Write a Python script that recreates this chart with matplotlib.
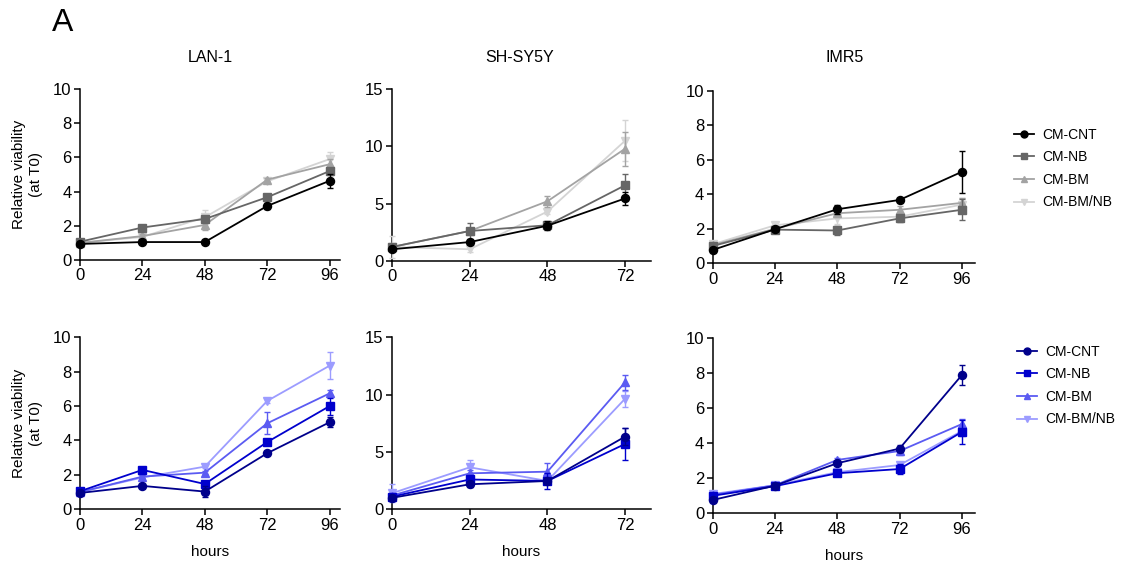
import matplotlib

matplotlib.use("Agg")
import matplotlib.pyplot as plt
from matplotlib.lines import Line2D

plt.rcParams["font.family"] = ["Liberation Sans", "DejaVu Sans"]

series = ["CM-CNT", "CM-NB", "CM-BM", "CM-BM/NB"]
markers = ["o", "s", "^", "v"]
gray_colors = ["#000000", "#666666", "#a3a3a3", "#d4d4d4"]
blue_colors = ["#00008b", "#0000cd", "#5b5bf2", "#9c9cff"]

cell_lines = ["LAN-1", "SH-SY5Y", "IMR5"]
hours_96 = [0, 24, 48, 72, 96]
hours_72 = [0, 24, 48, 72]

# top row (grey) means and sd
lan_gray = [[0.94, 1.05, 1.05, 3.16, 4.63],
            [1.07, 1.9, 2.4, 3.67, 5.2],
            [1.0, 1.4, 2.05, 4.7, 5.6],
            [1.0, 1.35, 2.5, 4.6, 5.9]]
lan_gray_err = [[0.05, 0.05, 0.05, 0.2, 0.4],
                [0.1, 0.1, 0.2, 0.2, 0.2],
                [0.1, 0.1, 0.3, 0.1, 0.3],
                [0.1, 0.1, 0.4, 0.1, 0.4]]
sh_gray = [[1.0, 1.63, 3.06, 5.45],
           [1.2, 2.6, 3.1, 6.6],
           [1.2, 2.6, 5.2, 9.8],
           [1.2, 1.0, 4.3, 10.5]]
sh_gray_err = [[0.1, 0.2, 0.4, 0.6],
               [0.2, 0.7, 0.3, 1.0],
               [0.2, 0.3, 0.5, 1.5],
               [1.0, 0.2, 0.2, 1.8]]
imr_gray = [[0.77, 1.97, 3.13, 3.67, 5.3],
            [1.0, 1.95, 1.9, 2.6, 3.1],
            [1.05, 2.0, 2.9, 3.1, 3.5],
            [1.1, 2.2, 2.6, 2.7, 3.4]]
imr_gray_err = [[0.1, 0.1, 0.25, 0.1, 1.2],
                [0.1, 0.1, 0.25, 0.2, 0.6],
                [0.1, 0.1, 0.2, 0.2, 0.3],
                [0.1, 0.2, 0.3, 0.2, 0.4]]

# bottom row (blue) means and sd
lan_blue = [[0.95, 1.36, 1.03, 3.26, 5.06],
            [1.05, 2.29, 1.47, 3.91, 6.0],
            [1.0, 1.9, 2.13, 5.0, 6.74],
            [1.0, 1.85, 2.48, 6.3, 8.35]]
lan_blue_err = [[0.05, 0.1, 0.3, 0.1, 0.3],
                [0.1, 0.1, 0.15, 0.1, 0.5],
                [0.1, 0.1, 0.1, 0.65, 0.2],
                [0.1, 0.1, 0.1, 0.1, 0.8]]
sh_blue = [[1.0, 2.18, 2.47, 6.34],
           [1.1, 2.6, 2.47, 5.7],
           [1.2, 3.14, 3.28, 11.08],
           [1.4, 3.66, 2.47, 9.65]]
sh_blue_err = [[0.1, 0.2, 0.3, 0.75],
               [0.2, 0.3, 0.7, 1.4],
               [0.2, 0.3, 0.8, 0.65],
               [0.8, 0.6, 0.3, 0.7]]
imr_blue = [[0.76, 1.58, 2.86, 3.7, 7.9],
            [1.0, 1.55, 2.29, 2.53, 4.65],
            [1.05, 1.6, 3.05, 3.56, 5.1],
            [1.1, 1.6, 2.35, 2.76, 4.7]]
imr_blue_err = [[0.1, 0.05, 0.1, 0.2, 0.55],
                [0.1, 0.05, 0.1, 0.3, 0.7],
                [0.1, 0.05, 0.1, 0.2, 0.3],
                [0.1, 0.05, 0.1, 0.2, 0.3]]

# axes rectangles [left, bottom, width, height] in figure fraction
top_pos = [[0.0712, 0.5398, 0.2313, 0.3027],
           [0.3488, 0.5386, 0.2304, 0.3034],
           [0.6340, 0.5340, 0.2333, 0.3055]]
bot_pos = [[0.0712, 0.0986, 0.2313, 0.3044],
           [0.3488, 0.0986, 0.2304, 0.3044],
           [0.6340, 0.0915, 0.2333, 0.3097]]


def panel(fig, pos, x, means, errs, colors, ymax, xmax,
          ylabel=False, xlabel=False):
    ax = fig.add_axes(pos)
    # reverse so CM-CNT ends up on top, as in prism
    for i in reversed(range(len(means))):
        ax.errorbar(x, means[i], yerr=errs[i], color=colors[i],
                    marker=markers[i], markersize=5.8, lw=1.3,
                    elinewidth=1.0, capsize=2.5, capthick=1.0,
                    clip_on=False, zorder=3 + (len(means) - i))
    ax.set_xlim(0, xmax)
    ax.set_ylim(0, ymax)
    ax.set_xticks(x)
    ax.set_yticks(range(0, ymax + 1, 2 if ymax == 10 else 5))
    for s in ("top", "right"):
        ax.spines[s].set_visible(False)
    for s in ("left", "bottom"):
        ax.spines[s].set_linewidth(1.1)
    ax.tick_params(labelsize=12, length=4, width=1.1, pad=2)
    if ylabel:
        ax.set_ylabel("Relative viability\n(at T0)", fontsize=11,
                      labelpad=7, linespacing=1.35)
    if xlabel:
        ax.set_xlabel("hours", fontsize=11, labelpad=9)
    return ax


fig = plt.figure(figsize=(11.24, 5.65), dpi=100)

top_data = [(lan_gray, lan_gray_err, hours_96, 10, 100),
            (sh_gray, sh_gray_err, hours_72, 15, 80),
            (imr_gray, imr_gray_err, hours_96, 10, 101)]
bot_data = [(lan_blue, lan_blue_err, hours_96, 10, 100),
            (sh_blue, sh_blue_err, hours_72, 15, 80),
            (imr_blue, imr_blue_err, hours_96, 10, 101)]

for k in range(3):
    m, e, x, ym, xm = top_data[k]
    panel(fig, top_pos[k], x, m, e, gray_colors, ym, xm,
          ylabel=(k == 0))
    m, e, x, ym, xm = bot_data[k]
    panel(fig, bot_pos[k], x, m, e, blue_colors, ym, xm,
          ylabel=(k == 0), xlabel=True)

title_x = [210 / 1124, 520 / 1124, 845 / 1124]
for name, tx in zip(cell_lines, title_x):
    fig.text(tx, 1 - 57 / 565, name, ha="center", va="center", fontsize=11.5)

fig.text(52 / 1124, 1 - 23 / 565, "A", ha="left", va="center", fontsize=23)


def legend_handles(colors):
    return [Line2D([0], [0], color=c, marker=mk, markersize=5, lw=1.3)
            for c, mk in zip(colors, markers)]


fig.legend(legend_handles(gray_colors), series, loc="upper left",
           bbox_to_anchor=(1008 / 1124, 1 - 122 / 565), frameon=False,
           fontsize=10, handlelength=1.5, labelspacing=0.62,
           handletextpad=0.6, borderaxespad=0)
fig.legend(legend_handles(blue_colors), series, loc="upper left",
           bbox_to_anchor=(1011 / 1124, 1 - 339 / 565), frameon=False,
           fontsize=10, handlelength=1.5, labelspacing=0.62,
           handletextpad=0.6, borderaxespad=0)

fig.savefig("out.png", dpi=100)
